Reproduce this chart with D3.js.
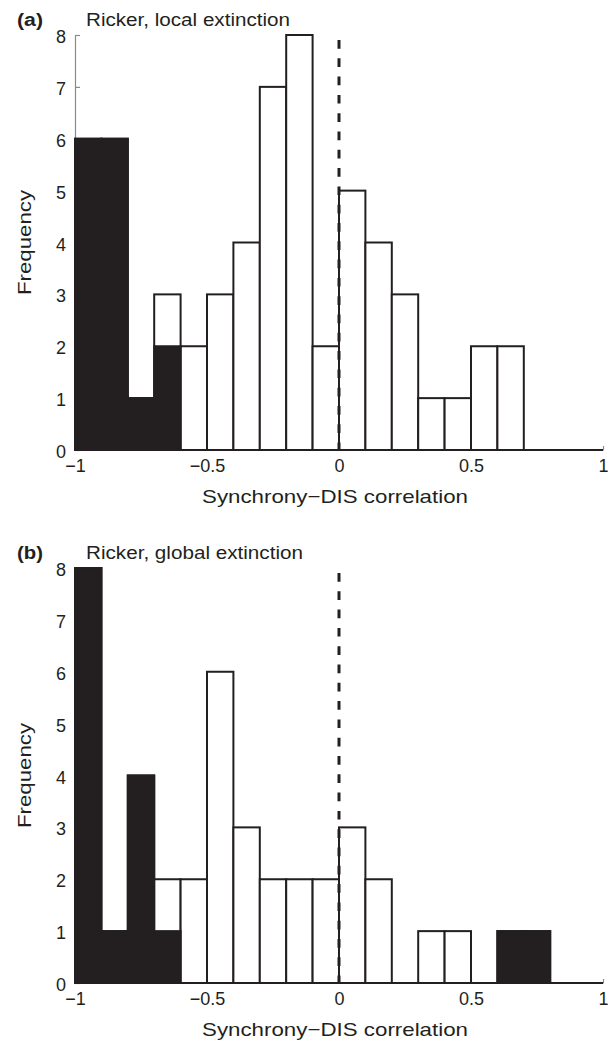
<!DOCTYPE html>
<html><head><meta charset="utf-8">
<script src="https://cdn.jsdelivr.net/npm/d3@7"></script>
<style>
body{margin:0;background:#fff}
text{font-family:"Liberation Sans",Arial,Helvetica,sans-serif;fill:#231f20}
</style>
</head><body>
<svg id="c" width="616" height="1044"></svg>
<script>
// ---- data ----
const binEdges = [-1,-0.9,-0.8,-0.7,-0.6,-0.5,-0.4,-0.3,-0.2,-0.1,0,0.1,0.2,0.3,0.4,0.5,0.6,0.7,0.8,0.9,1];
const totalA = [6,6,1,3,2,3,4,7,8,2,5,4,3,1,1,2,2,0,0,0];
const blackA = [6,6,1,2,0,0,0,0,0,0,0,0,0,0,0,0,0,0,0,0];
const totalB = [8,1,4,2,2,6,3,2,2,2,3,2,0,1,1,0,1,1,0,0];
const blackB = [8,1,4,1,0,0,0,0,0,0,0,0,0,0,0,0,1,1,0,0];
const panelLetters = ["(a)","(b)"];
const panelTitles = ["Ricker, local extinction","Ricker, global extinction"];
const xTickValues = [-1,-0.5,0,0.5,1];
const xTickLabels = ["\u22121","\u22120.5","0","0.5","1"];
const yTickValues = [0,1,2,3,4,5,6,7,8];
const xLabel = "Synchrony\u2212DIS correlation";
const yLabel = "Frequency";

// ---- layout ----
const panels = [
  {top:35, total:totalA, black:blackA, titleLen:204},
  {top:568, total:totalB, black:blackB, titleLen:217}
];
const plotH = 415;
const ink = "#231f20";
const svg = d3.select("#c");
const x = d3.scaleLinear().domain([-1,1]).range([75,603]);

panels.forEach((p,pi)=>{
  const y = d3.scaleLinear().domain([0,8]).range([p.top+plotH, p.top]);
  const g = svg.append("g");

  // y axis
  const ya = g.append("g")
    .attr("transform",`translate(${x(-1)},0)`)
    .call(d3.axisLeft(y).tickValues(yTickValues).tickSizeInner(-5).tickSizeOuter(0).tickPadding(9).tickFormat(d3.format("d")));
  ya.attr("font-family",null).attr("font-size",null);
  ya.select(".domain").attr("stroke","#8a8a8a").attr("stroke-width",1.2);
  ya.selectAll(".tick line").attr("stroke","#8a8a8a").attr("stroke-width",1.2);
  ya.selectAll(".tick text").style("font-size","18px").attr("dy","0.42em");

  // x axis
  const xa = g.append("g")
    .attr("transform",`translate(0,${y(0)})`)
    .call(d3.axisBottom(x).tickValues(xTickValues).tickSizeInner(-4).tickSizeOuter(0).tickPadding(9)
      .tickFormat(d=>xTickLabels[xTickValues.indexOf(d)]));
  xa.attr("font-family",null).attr("font-size",null);
  xa.select(".domain").attr("stroke","#8a8a8a");
  xa.selectAll(".tick line").attr("stroke","#8a8a8a").attr("stroke-width",1.2);
  xa.selectAll(".tick text").style("font-size","18px");

  const bins = p.total.map((t,i)=>({x0:binEdges[i], x1:binEdges[i+1], total:t, black:p.black[i]}));

  // white (total) bars
  g.append("g").selectAll("rect").data(bins.filter(d=>d.total>0)).join("rect")
    .attr("x",d=>x(d.x0)).attr("width",d=>x(d.x1)-x(d.x0))
    .attr("y",d=>y(d.total)).attr("height",d=>y(0)-y(d.total))
    .attr("fill","#fff").attr("stroke",ink).attr("stroke-width",2);

  // black (significant) bars
  g.append("g").selectAll("rect").data(bins.filter(d=>d.black>0)).join("rect")
    .attr("x",d=>x(d.x0)).attr("width",d=>x(d.x1)-x(d.x0))
    .attr("y",d=>y(d.black)).attr("height",d=>y(0)-y(d.black))
    .attr("fill",ink).attr("stroke",ink).attr("stroke-width",2);

  // baseline
  g.append("line").attr("x1",x(-1)).attr("x2",x(1)).attr("y1",y(0)).attr("y2",y(0))
    .attr("stroke",ink).attr("stroke-width",2);

  // dashed zero line
  g.append("line").attr("x1",x(0)).attr("x2",x(0)).attr("y1",y(8)+5).attr("y2",y(0))
    .attr("stroke",ink).attr("stroke-width",3).attr("stroke-dasharray","8.7,9.6");

  // panel letter & title
  g.append("text").attr("x",17).attr("y",p.top-9)
    .style("font-size","18px").style("font-weight","bold")
    .attr("textLength",26).attr("lengthAdjust","spacingAndGlyphs")
    .text(panelLetters[pi]);
  g.append("text").attr("x",86).attr("y",p.top-9)
    .style("font-size","17.5px")
    .attr("textLength",p.titleLen).attr("lengthAdjust","spacingAndGlyphs")
    .text(panelTitles[pi]);

  // axis labels
  g.append("text").attr("x",335).attr("y",y(0)+53).attr("text-anchor","middle")
    .style("font-size","19px")
    .attr("textLength",266).attr("lengthAdjust","spacingAndGlyphs")
    .text(xLabel);
  g.append("text").attr("transform",`translate(31,${p.top+plotH/2}) rotate(-90)`)
    .attr("text-anchor","middle").style("font-size","19px")
    .attr("textLength",105).attr("lengthAdjust","spacingAndGlyphs")
    .text(yLabel);
});
</script>
</body></html>
